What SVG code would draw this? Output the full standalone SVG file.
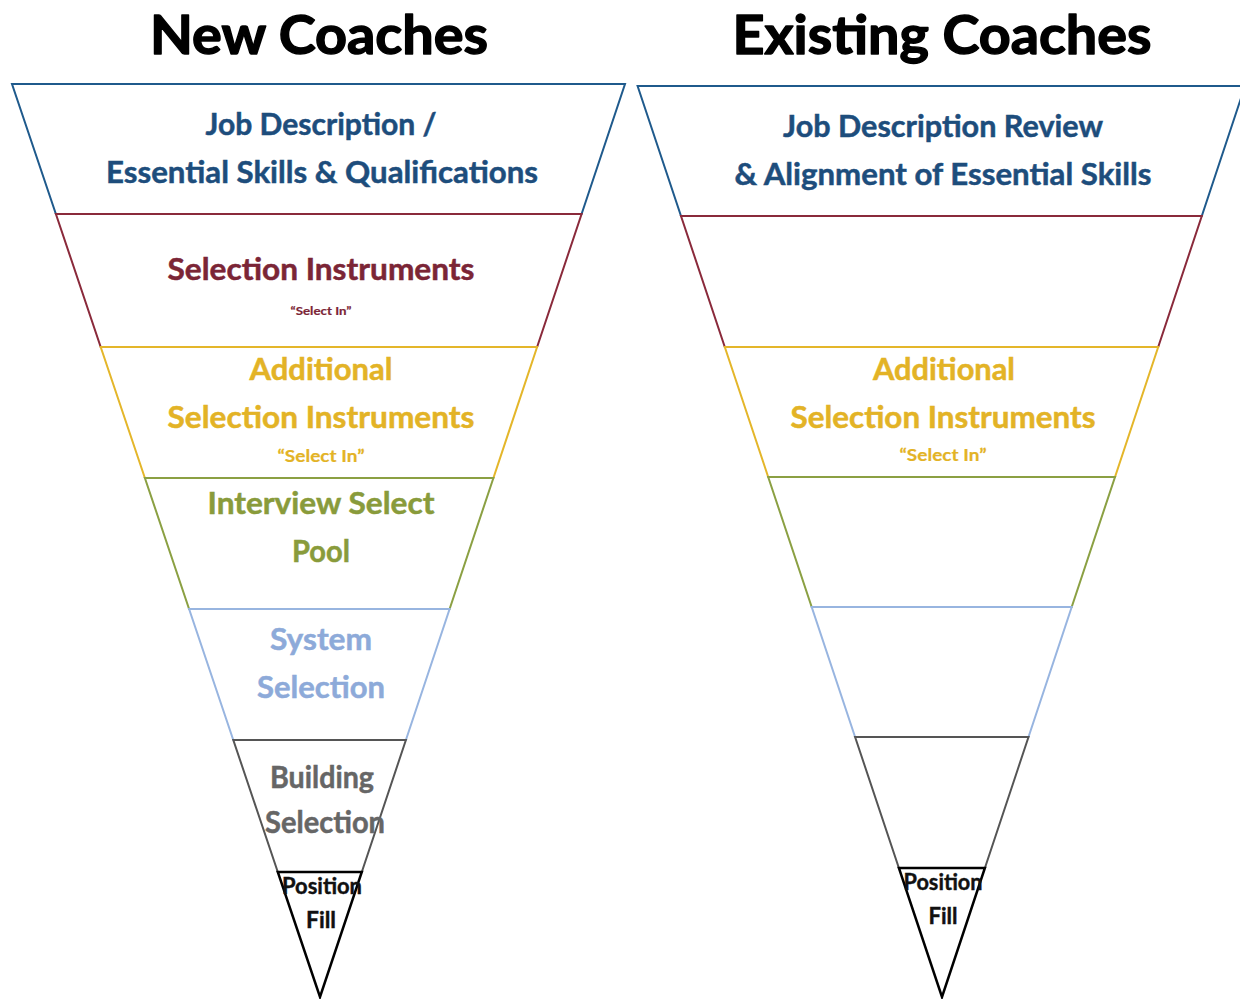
<svg xmlns="http://www.w3.org/2000/svg" width="1240" height="999" viewBox="0 0 1240 999">
  <style>
    .band { fill: #ffffff; stroke-width: 2; stroke-linejoin: miter; }
    .t { font-family: "Lato", "Liberation Sans", sans-serif; font-weight: bold; text-anchor: middle; }
    .title { font-size: 54px; fill: #000000; stroke: #000000; stroke-width: 1.4; stroke-linejoin: round; }
    .lg { font-size: 31px; stroke-width: 0.5; }
    .sm { font-size: 22px; stroke-width: 0.4; }
    .blue { stroke: #1f5a8c; } .blueT { fill: #1d4d7c; stroke: #1d4d7c; }
    .red { stroke: #8a2a3b; } .redT { fill: #7b2536; stroke: #7b2536; }
    .gold { stroke: #e4b62a; } .goldT { fill: #e3b326; stroke: #e3b326; }
    .green { stroke: #8ba043; } .greenT { fill: #899b3b; stroke: #899b3b; }
    .sky { stroke: #98b5e0; } .skyT { fill: #8daad9; stroke: #8daad9; }
    .gray { stroke: #555555; } .grayT { fill: #666666; stroke: #666666; }
    .black { stroke: #000000; stroke-width: 2.5; } .blackT { fill: #111111; stroke: #111111; }
    .tiny { stroke-width: 0.2; }
  </style>
  <rect width="1240" height="999" fill="#ffffff"/>

  <!-- headings -->
  <g id="heading-new">
    <text class="t title" x="319" y="54" textLength="338" lengthAdjust="spacingAndGlyphs">New Coaches</text>
  </g>
  <g id="heading-existing">
    <text class="t title" x="942" y="54" textLength="419" lengthAdjust="spacingAndGlyphs">Existing Coaches</text>
  </g>

  <!-- funnel for new coaches -->
  <g id="funnel-new">
    <g id="new-job-description">
      <polygon class="band blue" points="12,84 625,84 581.6,214 55.9,214"/>
      <text class="t lg blueT" x="321" y="135" textLength="231" lengthAdjust="spacingAndGlyphs">Job Description /</text>
      <text class="t lg blueT" x="322" y="183" textLength="432" lengthAdjust="spacingAndGlyphs">Essential Skills &amp; Qualifications</text>
    </g>
    <g id="new-selection-instruments">
      <polygon class="band red" points="55.9,214 581.6,214 537.1,347 100.7,347"/>
      <text class="t lg redT" x="321" y="280" textLength="307" lengthAdjust="spacingAndGlyphs">Selection Instruments</text>
      <text class="t tiny redT" x="321" y="315" font-size="12" textLength="61" lengthAdjust="spacingAndGlyphs">“Select In”</text>
    </g>
    <g id="new-additional-instruments">
      <polygon class="band gold" points="100.7,347 537.1,347 493.4,478 144.9,478"/>
      <text class="t lg goldT" x="321" y="380" textLength="143" lengthAdjust="spacingAndGlyphs">Additional</text>
      <text class="t lg goldT" x="321" y="428" textLength="307" lengthAdjust="spacingAndGlyphs">Selection Instruments</text>
      <text class="t tiny goldT" x="321" y="462" font-size="17" textLength="87" lengthAdjust="spacingAndGlyphs">“Select In”</text>
    </g>
    <g id="new-interview-pool">
      <polygon class="band green" points="144.9,478 493.4,478 449.6,609 189.1,609"/>
      <text class="t lg greenT" x="321" y="514" textLength="227" lengthAdjust="spacingAndGlyphs">Interview Select</text>
      <text class="t lg greenT" x="321" y="562" textLength="58" lengthAdjust="spacingAndGlyphs">Pool</text>
    </g>
    <g id="new-system-selection">
      <polygon class="band sky" points="189.1,609 449.6,609 405.9,740 233.3,740"/>
      <text class="t lg skyT" x="321" y="650" textLength="102" lengthAdjust="spacingAndGlyphs">System</text>
      <text class="t lg skyT" x="321" y="698" textLength="128" lengthAdjust="spacingAndGlyphs">Selection</text>
    </g>
    <g id="new-building-selection">
      <polygon class="band gray" points="233.3,740 405.9,740 361.8,872 277.8,872"/>
      <text class="t lg grayT" x="322" y="788" textLength="104" lengthAdjust="spacingAndGlyphs">Building</text>
      <text class="t lg grayT" x="325" y="833" textLength="120" lengthAdjust="spacingAndGlyphs">Selection</text>
    </g>
    <g id="new-position-fill">
      <polygon class="band black" points="277.8,872 361.8,872 320,997"/>
      <text class="t sm blackT" x="322" y="894" textLength="80" lengthAdjust="spacingAndGlyphs">Position</text>
      <text class="t sm blackT" x="321" y="928" textLength="30" lengthAdjust="spacingAndGlyphs">Fill</text>
    </g>
  </g>

  <!-- funnel for existing coaches -->
  <g id="funnel-existing">
    <g id="existing-job-description">
      <polygon class="band blue" points="637.6,86 1245,86 1201.8,216 681,216"/>
      <text class="t lg blueT" x="943" y="137" textLength="320" lengthAdjust="spacingAndGlyphs">Job Description Review</text>
      <text class="t lg blueT" x="943" y="185" textLength="417" lengthAdjust="spacingAndGlyphs">&amp; Alignment of Essential Skills</text>
    </g>
    <g id="existing-selection-instruments">
      <polygon class="band red" points="681,216 1201.8,216 1158.2,347 724.8,347"/>
    </g>
    <g id="existing-additional-instruments">
      <polygon class="band gold" points="724.8,347 1158.2,347 1115,477 768.2,477"/>
      <text class="t lg goldT" x="944" y="380" textLength="142" lengthAdjust="spacingAndGlyphs">Additional</text>
      <text class="t lg goldT" x="943" y="428" textLength="305" lengthAdjust="spacingAndGlyphs">Selection Instruments</text>
      <text class="t tiny goldT" x="943" y="461" font-size="17" textLength="87" lengthAdjust="spacingAndGlyphs">“Select In”</text>
    </g>
    <g id="existing-interview-pool">
      <polygon class="band green" points="768.2,477 1115,477 1071.7,607 811.7,607"/>
    </g>
    <g id="existing-system-selection">
      <polygon class="band sky" points="811.7,607 1071.7,607 1028.5,737 855.1,737"/>
    </g>
    <g id="existing-building-selection">
      <polygon class="band gray" points="855.1,737 1028.5,737 984.9,868 898.9,868"/>
    </g>
    <g id="existing-position-fill">
      <polygon class="band black" points="898.9,868 984.9,868 942,997"/>
      <text class="t sm blackT" x="943" y="890" textLength="79" lengthAdjust="spacingAndGlyphs">Position</text>
      <text class="t sm blackT" x="943" y="924" textLength="29" lengthAdjust="spacingAndGlyphs">Fill</text>
    </g>
  </g>
</svg>
